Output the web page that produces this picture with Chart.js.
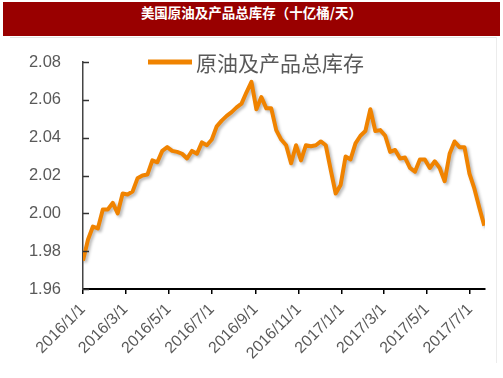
<!DOCTYPE html>
<html>
<head>
<meta charset="utf-8">
<script src="https://cdn.jsdelivr.net/npm/chart.js@4/dist/chart.umd.min.js"></script>
<style>
  html, body { margin: 0; padding: 0; background: #fff; }
  #wrap { position: relative; width: 503px; height: 378px; overflow: hidden; }
  #title {
    position: absolute; left: 3px; top: 2px; width: 497px; height: 34px;
    background: #990000; color: #fff; text-align: center; line-height: 34px;
    font: bold 13.5px "Noto Sans CJK SC", sans-serif;
  }
  #rule { position: absolute; left: 10px; top: 37px; width: 487px; height: 1px; background: #e4e4e4; }
  #edge { position: absolute; left: 496px; top: 37px; width: 1px; height: 326px; background: #ececec; }
  canvas { position: absolute; left: 0; top: 0; }
</style>
</head>
<body>
<div id="wrap">
  <canvas id="myChart" width="503" height="378"></canvas>
  <div id="title"></div>
  <div id="rule"></div>
  <div id="edge"></div>
</div>
<script>
// chart data
const titleText = '美国原油及产品总库存（十亿桶/天）';
const seriesName = '原油及产品总库存';
const firstWeek = '2016/1/1';   // weekly series, one value each 7 days from here
const stockValues = [
    1.975, 1.986, 1.993, 1.992, 2.002, 2.002, 2.0055, 2.000, 2.0105, 2.010,
    2.0115, 2.0185, 2.020, 2.0205, 2.028, 2.027, 2.033, 2.035, 2.033, 2.0325,
    2.0315, 2.029, 2.033, 2.0315, 2.0375, 2.036, 2.039, 2.046, 2.049, 2.0515,
    2.0535, 2.056, 2.058, 2.064, 2.0695, 2.055, 2.0615, 2.0555, 2.0555, 2.044,
    2.039, 2.036, 2.0265, 2.036, 2.028, 2.036, 2.0355, 2.036, 2.038, 2.036,
    2.023, 2.0105, 2.015, 2.030, 2.0285, 2.037, 2.041, 2.0435, 2.055, 2.0435,
    2.044, 2.041, 2.0325, 2.0335, 2.029, 2.0295, 2.024, 2.022, 2.0285, 2.0285,
    2.024, 2.0275, 2.024, 2.017, 2.0315, 2.038, 2.035, 2.035, 2.021, 2.013,
    2.003, 1.9935
];
const xTickLabels = ['2016/1/1', '2016/3/1', '2016/5/1', '2016/7/1', '2016/9/1', '2016/11/1',
    '2017/1/1', '2017/3/1', '2017/5/1', '2017/7/1'];
const yTickValues = [1.96, 1.98, 2.00, 2.02, 2.04, 2.06, 2.08];

document.getElementById('title').textContent = titleText;

function dayOf(s){
    const p = s.split('/').map(Number);
    const b = firstWeek.split('/').map(Number);
    return (Date.UTC(p[0], p[1] - 1, p[2]) - Date.UTC(b[0], b[1] - 1, b[2])) / 86400000;
}

const points = stockValues.map(function (v, i) { return {x: i * 7, y: v}; });
const orange = '#f08300';
const grey = '#595959';

// soft shadow under the line, like the original
const lineShadow = {
    id: 'lineShadow',
    beforeDatasetsDraw: function (chart) {
        const ctx = chart.ctx;
        ctx.save();
        ctx.shadowColor = 'rgba(0,0,0,0.28)';
        ctx.shadowBlur = 3;
        ctx.shadowOffsetX = 2;
        ctx.shadowOffsetY = 2;
    },
    afterDatasetsDraw: function (chart) {
        chart.ctx.restore();
    }
};

// small inward tick marks on the y axis + legend drawn inside the plot
const extras = {
    id: 'extras',
    afterDraw: function (chart) {
        const ctx = chart.ctx;
        const y = chart.scales.y;
        const left = chart.chartArea.left;
        ctx.save();
        ctx.strokeStyle = '#333';
        ctx.lineWidth = 1.5;
        y.ticks.forEach(function (t) {
            const py = Math.round(y.getPixelForValue(t.value)) + 0.5;
            ctx.beginPath();
            ctx.moveTo(left, py);
            ctx.lineTo(left + 6, py);
            ctx.stroke();
        });
        // legend
        const ds = chart.data.datasets[0];
        const lx = left + 65, ly = chart.chartArea.top;
        ctx.strokeStyle = ds.borderColor;
        ctx.lineWidth = 5;
        ctx.beginPath();
        ctx.moveTo(lx, ly);
        ctx.lineTo(lx + 44, ly);
        ctx.stroke();
        ctx.fillStyle = grey;
        ctx.font = '21px "Noto Sans CJK SC"';
        ctx.textBaseline = 'middle';
        ctx.textAlign = 'left';
        ctx.fillText(ds.label, lx + 48, ly + 1);
        ctx.restore();
    }
};

new Chart(document.getElementById('myChart'), {
    type: 'line',
    data: {
        datasets: [{
            label: seriesName,
            data: points,
            borderColor: orange,
            backgroundColor: orange,
            borderWidth: 4,
            pointRadius: 0,
            tension: 0,
            fill: false,
            borderJoinStyle: 'round'
        }]
    },
    options: {
        responsive: false,
        animation: false,
        layout: { padding: { top: 62, right: 18, left: 0, bottom: 0 } },
        plugins: {
            legend: { display: false },
            tooltip: { enabled: false }
        },
        scales: {
            x: {
                type: 'linear',
                min: 0,
                max: 568,
                afterBuildTicks: function (scale) {
                    scale.ticks = xTickLabels.map(function (l) { return {value: dayOf(l)}; });
                },
                afterFit: function (scale) { scale.height = 89; },
                grid: { drawOnChartArea: false, drawTicks: true, tickLength: 5, color: '#000', lineWidth: 1.5 },
                border: { color: '#000', width: 2 },
                ticks: {
                    autoSkip: false,
                    minRotation: 45,
                    maxRotation: 45,
                    padding: 6,
                    color: grey,
                    font: { family: '"Liberation Sans", Arial, sans-serif', size: 16 },
                    callback: function (v, i) { return xTickLabels[i]; }
                }
            },
            y: {
                min: 1.96,
                max: 2.08,
                afterBuildTicks: function (scale) {
                    scale.ticks = yTickValues.map(function (v) { return {value: v}; });
                },
                afterFit: function (scale) { scale.width = 83; },
                grid: { drawOnChartArea: false, drawTicks: false },
                border: { color: '#444', width: 1.5 },
                ticks: {
                    padding: 22,
                    color: grey,
                    font: { family: '"Liberation Sans", Arial, sans-serif', size: 16.5 },
                    callback: function (v) { return Number(v).toFixed(2); }
                }
            }
        }
    },
    plugins: [lineShadow, extras]
});
</script>
</body>
</html>
